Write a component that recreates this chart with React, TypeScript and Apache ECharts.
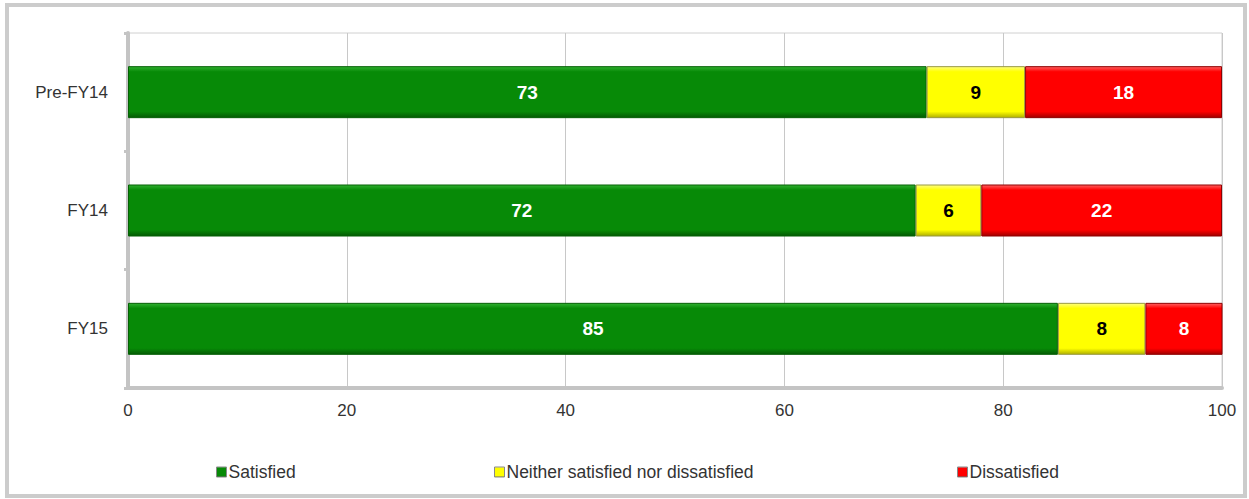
import React, { useEffect, useRef } from "react";
import * as echarts from "echarts";

const categories = ["FY15", "FY14", "Pre-FY14"];
const satisfied = [85, 72, 73];
const neither = [8, 6, 9];
const dissatisfied = [8, 22, 18];
const seriesNames = ["Satisfied", "Neither satisfied nor dissatisfied", "Dissatisfied"];

const FONT = "'Liberation Sans', Arial, sans-serif";

function grad(light: string, base: string, dark: string) {
  return new echarts.graphic.LinearGradient(0, 0, 0, 1, [
    { offset: 0, color: light },
    { offset: 0.1, color: base },
    { offset: 0.88, color: base },
    { offset: 1, color: dark },
  ]);
}

export default function App() {
  const ref = useRef<HTMLDivElement>(null);
  useEffect(() => {
    if (!ref.current) return;
    const chart = echarts.init(ref.current, null, { renderer: "svg" });
    const label = (color: string) => ({
      show: true,
      position: "inside",
      color,
      fontWeight: "bold",
      fontSize: 19,
      fontFamily: FONT,
    });
    const legendBase = {
      icon: "rect",
      itemWidth: 10,
      itemHeight: 10,
      itemGap: 4,
      top: 458,
      textStyle: { fontSize: 17.5, color: "#333", fontFamily: FONT, padding: [0, 0, 0, -3] },
      itemStyle: { borderColor: "#888", borderWidth: 1 },
      selectedMode: false,
    };
    chart.setOption({
      animation: false,
      backgroundColor: "#fff",
      graphic: [
        {
          type: "rect",
          shape: { x: 7, y: 5, width: 1238, height: 491 },
          style: { fill: "none", stroke: "#cccccc", lineWidth: 4 },
          silent: true,
        },
      ],
      legend: [
        { ...legendBase, left: 211, data: [seriesNames[0]] },
        { ...legendBase, left: 489, data: [seriesNames[1]] },
        { ...legendBase, left: 952, data: [seriesNames[2]] },
      ],
      grid: {
        left: 128,
        right: 27,
        top: 33,
        bottom: 111,
        show: true,
        borderColor: "#d0d0d0",
        borderWidth: 1,
      },
      xAxis: {
        type: "value",
        min: 0,
        max: 100,
        interval: 20,
        axisLine: { show: true, lineStyle: { color: "#c4c4c4", width: 4 } },
        axisTick: { show: false },
        splitLine: { show: true, lineStyle: { color: "#c8c8c8", width: 1 } },
        axisLabel: { color: "#333", fontSize: 17, margin: 14, fontFamily: FONT },
      },
      yAxis: {
        type: "category",
        data: categories,
        axisLine: { show: true, lineStyle: { color: "#c4c4c4", width: 4 } },
        offset: 2,
        axisTick: { show: true, length: 4, lineStyle: { color: "#c4c4c4", width: 3 } },
        axisLabel: { color: "#333", fontSize: 17, margin: 18, fontFamily: FONT },
      },
      series: [
        {
          name: seriesNames[0],
          type: "bar",
          stack: "total",
          barWidth: 52,
          data: satisfied,
          itemStyle: { color: grad("#30b030", "#078a07", "#045a04"), borderColor: "#056005", borderWidth: 1 },
          label: label("#fff"),
        },
        {
          name: seriesNames[1],
          type: "bar",
          stack: "total",
          barWidth: 52,
          data: neither,
          itemStyle: { color: grad("#ffff80", "#ffff00", "#b0b000"), borderColor: "#9a9a40", borderWidth: 1 },
          label: label("#000"),
        },
        {
          name: seriesNames[2],
          type: "bar",
          stack: "total",
          barWidth: 52,
          data: dissatisfied,
          itemStyle: { color: grad("#ff6060", "#ff0000", "#a00000"), borderColor: "#900000", borderWidth: 1 },
          label: label("#fff"),
        },
      ],
    });
    return () => chart.dispose();
  }, []);
  return (
    <div
      ref={ref}
      style={{ position: "absolute", left: 0, top: 0, width: 1249, height: 499 }}
    />
  );
}
